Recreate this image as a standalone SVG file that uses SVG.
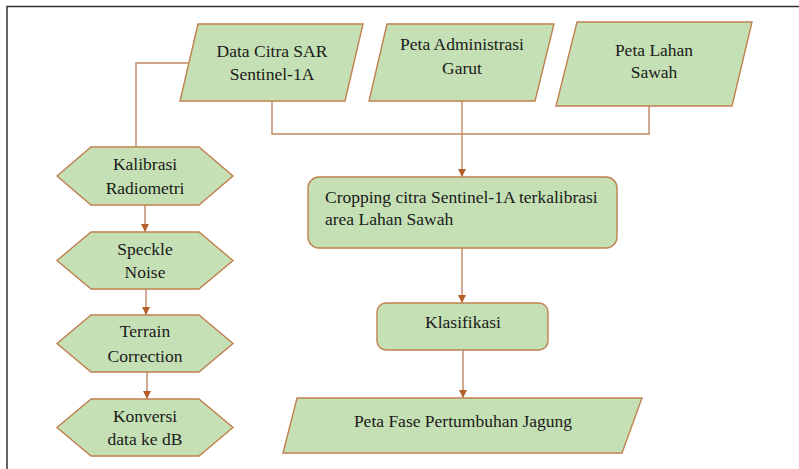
<svg xmlns="http://www.w3.org/2000/svg" width="799" height="469" viewBox="0 0 799 469">
  <style>
    .shape { fill: #C5E0B4; stroke: #C0804F; stroke-width: 1.4; }
    .conn { fill: none; stroke: #C08660; stroke-width: 1.4; }
    .lbl { font-family: "Liberation Serif", "Times New Roman", serif; font-size: 17.5px; fill: #1a1a1a; text-anchor: middle; }
    .lbl-left { text-anchor: start; }
  </style>
  <defs>
    <marker id="arrow" viewBox="0 0 10 10" refX="10" refY="5" markerWidth="8" markerHeight="8" markerUnits="userSpaceOnUse" orient="auto">
      <path d="M0,0 L10,5 L0,10 Z" fill="#B5602A"/>
    </marker>
  </defs>

  <rect width="799" height="469" fill="#ffffff"/>
  <!-- page frame -->
  <path d="M7,469 L7,6.5 L799,6.5" fill="none" stroke="#333333" stroke-width="1.5"/>

  <!-- connectors -->
  <g id="connectors">
    <path class="conn" d="M188,63 L136,63 L136,147"/>
    <path class="conn" d="M272,101 L272,134 L649,134 L649,106"/>
    <path class="conn" d="M462,101 L462,177" marker-end="url(#arrow)"/>
    <path class="conn" d="M145,205 L145,232" marker-end="url(#arrow)"/>
    <path class="conn" d="M146,289 L146,315" marker-end="url(#arrow)"/>
    <path class="conn" d="M147,372 L147,399" marker-end="url(#arrow)"/>
    <path class="conn" d="M462,248 L462,303" marker-end="url(#arrow)"/>
    <path class="conn" d="M463,350 L463,398" marker-end="url(#arrow)"/>
  </g>

  <!-- input data -->
  <g id="data-citra-sar">
    <polygon class="shape" points="198,24 363,24 345,101 180,101"/>
    <text class="lbl" x="272" y="57">Data Citra SAR</text>
    <text class="lbl" x="272" y="80">Sentinel-1A</text>
  </g>
  <g id="peta-administrasi">
    <polygon class="shape" points="387,24 554,24 535,101 369,101"/>
    <text class="lbl" x="462" y="50">Peta Administrasi</text>
    <text class="lbl" x="462" y="74">Garut</text>
  </g>
  <g id="peta-lahan-sawah">
    <polygon class="shape" points="577,22 752,22 732,106 556,106"/>
    <text class="lbl" x="654" y="56">Peta Lahan</text>
    <text class="lbl" x="654" y="78">Sawah</text>
  </g>

  <!-- preprocessing chain -->
  <g id="kalibrasi-radiometri">
    <polygon class="shape" points="57,176 91,147 199,147 233,176 199,205 91,205"/>
    <text class="lbl" x="145" y="170">Kalibrasi</text>
    <text class="lbl" x="145" y="194">Radiometri</text>
  </g>
  <g id="speckle-noise">
    <polygon class="shape" points="57,260.5 91,232 199,232 233,260.5 199,289 91,289"/>
    <text class="lbl" x="145" y="255">Speckle</text>
    <text class="lbl" x="145" y="278">Noise</text>
  </g>
  <g id="terrain-correction">
    <polygon class="shape" points="57,343.5 91,315 199,315 233,343.5 199,372 91,372"/>
    <text class="lbl" x="145" y="337">Terrain</text>
    <text class="lbl" x="145" y="362">Correction</text>
  </g>
  <g id="konversi-db">
    <polygon class="shape" points="57,427.5 91,399 199,399 233,427.5 199,456 91,456"/>
    <text class="lbl" x="145" y="422">Konversi</text>
    <text class="lbl" x="145" y="445">data ke dB</text>
  </g>

  <!-- processing -->
  <g id="cropping">
    <rect class="shape" x="308" y="177" width="309" height="71" rx="11" ry="11"/>
    <text class="lbl lbl-left" x="325" y="203">Cropping citra Sentinel-1A terkalibrasi</text>
    <text class="lbl lbl-left" x="325" y="225">area Lahan Sawah</text>
  </g>
  <g id="klasifikasi">
    <rect class="shape" x="377" y="303" width="171" height="47" rx="9" ry="9"/>
    <text class="lbl" x="463" y="328">Klasifikasi</text>
  </g>

  <!-- output -->
  <g id="peta-fase">
    <polygon class="shape" points="297,398 642,398 622,453 283,453"/>
    <text class="lbl" x="463" y="427">Peta Fase Pertumbuhan Jagung</text>
  </g>
</svg>
